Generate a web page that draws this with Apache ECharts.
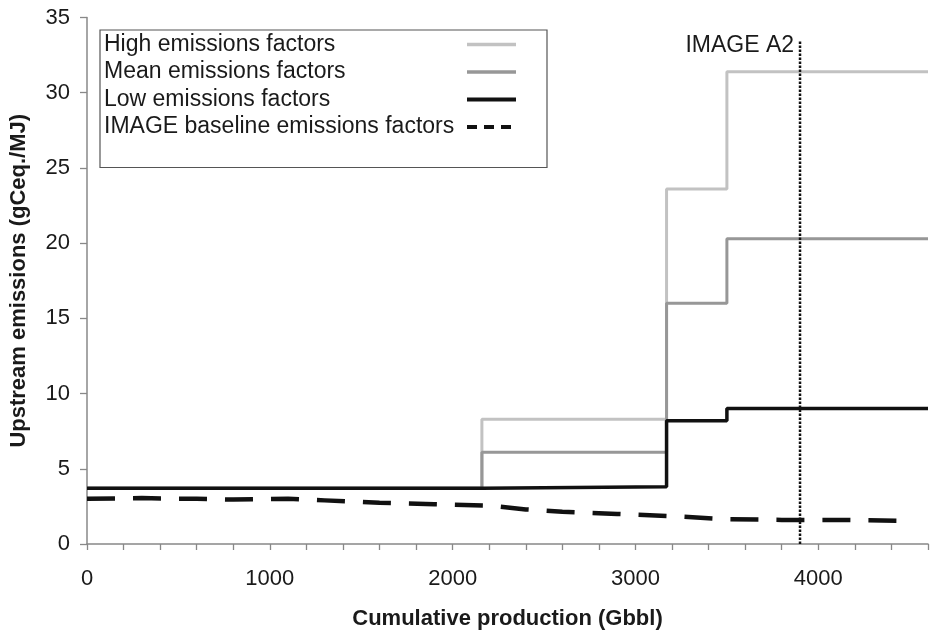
<!DOCTYPE html>
<html>
<head>
<meta charset="utf-8">
<script src="https://cdn.jsdelivr.net/npm/echarts@6/dist/echarts.min.js"></script>
<style>
html,body{margin:0;padding:0;background:#fff;}
#c{width:934px;height:635px;}
</style>
</head>
<body>
<div id="c"></div>
<script>
// Step breakpoints (Gbbl) and levels (gCeq./MJ); last point closes the final step
const highX = [0, 2160, 3170, 3500, 4600];
const highY = [3.7, 8.3, 23.6, 31.4, 31.4];
const meanX = [0, 2160, 3170, 3500, 4600];
const meanY = [3.7, 6.1, 16.0, 20.3, 20.3];
const lowX  = [0, 2160, 3170, 3500, 4600];
const lowY  = [3.7, 3.8, 8.2, 9.0, 9.0];
// IMAGE baseline emissions factors
const baseX = [0, 300, 600, 800, 1100, 1300, 1600, 1900, 2200, 2400, 2600, 2900, 3200, 3500, 3800, 4100, 4450];
const baseY = [3.0, 3.05, 3.0, 2.95, 3.0, 2.9, 2.75, 2.65, 2.55, 2.3, 2.15, 2.0, 1.85, 1.65, 1.6, 1.6, 1.55];
// IMAGE A2 marker
const a2X = [3900, 3900];
const a2Y = [0, 33.4];
const a2Label = 'IMAGE A2';

const seriesNames = ['High emissions factors', 'Mean emissions factors', 'Low emissions factors', 'IMAGE baseline emissions factors'];
const xTitle = 'Cumulative production (Gbbl)';
const yTitle = 'Upstream emissions (gCeq./MJ)';

const zip = (xs, ys) => xs.map((x, i) => [x, ys[i]]);
const FONT = "'Liberation Sans', Arial, sans-serif";

const chart = echarts.init(document.getElementById('c'), null, {renderer: 'canvas'});
chart.setOption({
  animation: false,
  backgroundColor: '#fff',
  textStyle: {fontFamily: FONT},
  grid: {left: 86, right: 6, top: 17.5, bottom: 87, containLabel: false},
  legend: {
    left: 100, top: 30,
    orient: 'vertical',
    align: 'right',
    padding: [3, 29, 29, 4],
    borderColor: '#555', borderWidth: 1.2,
    itemGap: 4.5,
    itemWidth: 49, itemHeight: 14,
    itemStyle: {color: 'rgba(0,0,0,0)', borderWidth: 0, opacity: 0},
    formatter: name => '{t|' + name + '}',
    textStyle: {fontFamily: FONT, fontSize: 23, color: '#1a1a1a', lineHeight: 22,
      rich: {t: {fontFamily: FONT, fontSize: 23, color: '#1a1a1a', width: 358, align: 'left', lineHeight: 22}}},
    data: [
      {name: seriesNames[0], lineStyle: {width: 3.5}},
      {name: seriesNames[1], lineStyle: {width: 3.5}},
      {name: seriesNames[2], lineStyle: {width: 4}},
      {name: seriesNames[3], lineStyle: {type: [10, 7], width: 4}}
    ]
  },
  xAxis: {
    type: 'value', min: 0, max: 4600, interval: 200,
    name: xTitle, nameLocation: 'middle', nameGap: 64,
    nameTextStyle: {fontFamily: FONT, fontSize: 22, fontWeight: 'bold', color: '#1a1a1a'},
    axisLine: {lineStyle: {color: '#888', width: 1.5}},
    axisTick: {show: true, length: 6, lineStyle: {color: '#888', width: 1.3}},
    axisLabel: {fontFamily: FONT, fontSize: 22, color: '#1a1a1a', margin: 24,
      formatter: v => (v % 1000 === 0 ? String(v) : '')},
    splitLine: {show: false}
  },
  yAxis: {
    type: 'value', min: 0, max: 35, interval: 5,
    name: yTitle, nameLocation: 'middle', nameGap: 57,
    nameTextStyle: {fontFamily: FONT, fontSize: 22, fontWeight: 'bold', color: '#1a1a1a'},
    axisLine: {show: true, lineStyle: {color: '#888', width: 1.5}},
    axisTick: {show: true, length: 7, lineStyle: {color: '#888', width: 1.3}},
    axisLabel: {fontFamily: FONT, fontSize: 22, color: '#1a1a1a', margin: 17},
    splitLine: {show: false}
  },
  series: [
    {name: seriesNames[0], type: 'line', step: 'end', symbol: 'none', data: zip(highX, highY),
      lineStyle: {color: '#c2c2c2', width: 3}, itemStyle: {color: '#c2c2c2'}, z: 2},
    {name: seriesNames[1], type: 'line', step: 'end', symbol: 'none', data: zip(meanX, meanY),
      lineStyle: {color: '#979797', width: 3}, itemStyle: {color: '#979797'}, z: 3},
    {name: seriesNames[2], type: 'line', step: 'end', symbol: 'none', data: zip(lowX, lowY),
      lineStyle: {color: '#111', width: 3.5}, itemStyle: {color: '#111'}, z: 4},
    {name: seriesNames[3], type: 'line', symbol: 'none', data: zip(baseX, baseY),
      lineStyle: {color: '#111', width: 4.5, type: [28, 18]}, itemStyle: {color: '#111'}, z: 5},
    {name: a2Label, type: 'line', symbol: 'none', data: zip(a2X, a2Y),
      lineStyle: {color: '#111', width: 2.5, type: [2.5, 1.5]}, z: 6,
      label: {show: false},
      endLabel: {show: true, formatter: a2Label, fontFamily: FONT, fontSize: 23, color: '#1a1a1a',
        align: 'right', verticalAlign: 'middle', offset: [-14, 4]}
    }
  ]
});
</script>
</body>
</html>
